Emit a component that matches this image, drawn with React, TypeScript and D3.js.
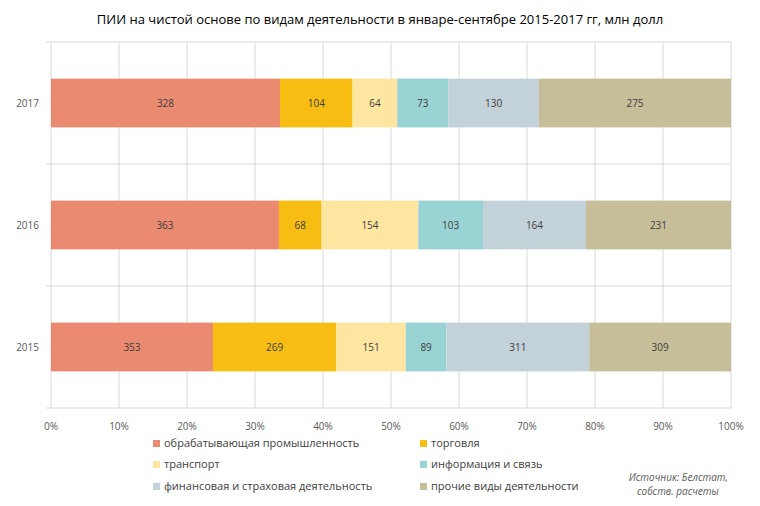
import React from "react";
import * as d3 from "d3";

const years = ["2017", "2016", "2015"];
const seriesNames = ["обрабатывающая промышленность", "торговля", "транспорт", "информация и связь", "финансовая и страховая деятельность", "прочие виды деятельности"];
const colors = ["#EA8A70", "#F7BD12", "#FEE6A1", "#9AD3D4", "#C3D1D9", "#C6BE98"];
const v2017 = [328, 104, 64, 73, 130, 275];
const v2016 = [363, 68, 154, 103, 164, 231];
const v2015 = [353, 269, 151, 89, 311, 309];
const values = [v2017, v2016, v2015];
const ticks = [0, 0.1, 0.2, 0.3, 0.4, 0.5, 0.6, 0.7, 0.8, 0.9, 1];

export default function App() {
  const W = 760, H = 506;
  const L = 51, R = 731, T = 42, B = 408;
  const x = d3.scaleLinear().domain([0, 1]).range([L, R]);
  const y = d3.scaleBand().domain(years).range([T, B]).paddingInner(0.6).paddingOuter(0.3);
  const font = "'Open Sans', 'DejaVu Sans', sans-serif";
  const legendPos = [[153, 444], [420, 444], [153, 465], [420, 465], [153, 487], [420, 487]];
  return (
    <svg width={W} height={H} style={{ position: "absolute", left: 0, top: 0 }} fontFamily={font}>
      <rect width={W} height={H} fill="#fff" />
      <text x={380} y={24} textAnchor="middle" fontSize={13} fill="#000">ПИИ на чистой основе по видам деятельности в январе-сентябре 2015-2017 гг, млн долл</text>
      {ticks.map((t) => (
        <g key={t}>
          <line x1={x(t)} x2={x(t)} y1={T} y2={B} stroke="#d9d9d9" />
          <text x={x(t)} y={430} textAnchor="middle" fontSize={10} fill="#595959">{Math.round(t * 100)}%</text>
        </g>
      ))}
      {[0, 1, 2, 3].map((i) => {
        const yy = T + ((B - T) / 3) * i;
        return <line key={i} x1={L - 5} x2={R} y1={yy} y2={yy} stroke="#d9d9d9" />;
      })}
      {years.map((yr, yi) => {
        const vals = values[yi];
        const total = d3.sum(vals);
        let cum = 0;
        return (
          <g key={yr}>
            <text x={L - 12} y={y(yr)! + y.bandwidth() / 2 + 4} textAnchor="end" fontSize={10} fill="#595959">{yr}</text>
            {vals.map((v, i) => {
              const x0 = x(cum / total);
              cum += v;
              const x1 = x(cum / total);
              return (
                <g key={i}>
                  <rect x={x0} y={y(yr)} width={x1 - x0} height={y.bandwidth()} fill={colors[i]} />
                  <text x={(x0 + x1) / 2} y={y(yr)! + y.bandwidth() / 2 + 4} textAnchor="middle" fontSize={10} fill="#404040">{v}</text>
                </g>
              );
            })}
          </g>
        );
      })}
      {seriesNames.map((n, i) => (
        <g key={n}>
          <rect x={legendPos[i][0]} y={legendPos[i][1] - 4} width={7} height={7} fill={colors[i]} />
          <text x={legendPos[i][0] + 11} y={legendPos[i][1] + 3} fontSize={11} fill="#404040">{n}</text>
        </g>
      ))}
      <text x={728} y={481} textAnchor="end" fontSize={10} fontStyle="italic" fill="#595959">Источник: Белстат,</text>
      <text x={637} y={495} fontSize={10} fontStyle="italic" fill="#595959">собств. расчеты</text>
    </svg>
  );
}
